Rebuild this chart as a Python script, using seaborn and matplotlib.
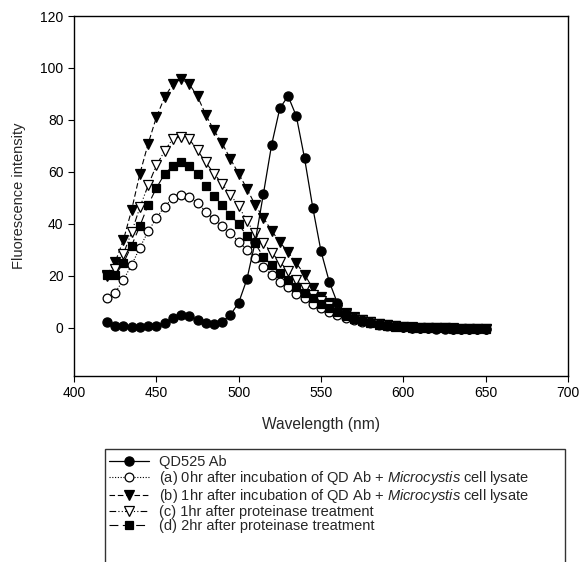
import matplotlib
matplotlib.use("Agg")
import matplotlib.pyplot as plt
import seaborn as sns
from matplotlib.patches import Rectangle

# ---------------- data ----------------
wavelength = [420, 425, 430, 435, 440, 445, 450, 455, 460, 465, 470, 475, 480, 485,
              490, 495, 500, 505, 510, 515, 520, 525, 530, 535, 540, 545, 550, 555,
              560, 565, 570, 575, 580, 585, 590, 595, 600, 605, 610, 615, 620, 625,
              630, 635, 640, 645, 650]

qd525 = [2.4, 0.8, 0.6, 0.5, 0.5, 0.6, 0.9, 2.0, 3.7, 5.0, 4.6, 3.1, 1.8, 1.4,
         2.4, 5.0, 9.7, 18.7, 33.0, 51.5, 70.4, 84.5, 89.2, 81.5, 65.3, 46.3, 29.5, 17.8,
         9.5, 5.6, 3.9, 2.9, 2.1, 1.5, 1.0, 0.6, 0.3, 0.1, -0.1, -0.2, -0.3, -0.3,
         -0.4, -0.4, -0.5, -0.5, -0.6]

series_a = [11.7, 13.6, 18.5, 24.2, 30.9, 37.1, 42.2, 46.7, 50.0, 51.2, 50.5, 48.2, 44.7, 41.8,
            39.2, 36.4, 33.2, 30.0, 26.8, 23.3, 20.4, 17.8, 15.6, 13.0, 11.4, 9.1, 7.5, 6.0,
            4.8, 3.8, 3.0, 2.3, 1.8, 1.3, 0.9, 0.6, 0.4, 0.2, 0.1, 0.0, -0.1, -0.2,
            -0.3, -0.3, -0.4, -0.4, -0.5]

series_b = [20.5, 25.3, 33.8, 45.4, 59.3, 70.8, 81.0, 88.7, 93.8, 95.8, 93.8, 89.1, 82.0, 76.0,
            71.0, 65.0, 59.3, 53.6, 47.3, 42.4, 37.4, 33.0, 29.2, 24.9, 20.5, 15.3, 12.0, 9.5,
            7.5, 5.6, 4.2, 3.1, 2.3, 1.6, 1.1, 0.7, 0.4, 0.2, 0.1, 0.0, -0.1, -0.2,
            -0.2, -0.3, -0.3, -0.4, -0.4]

series_c = [20.0, 22.5, 28.5, 36.8, 46.4, 54.8, 62.5, 68.0, 72.8, 73.5, 72.6, 68.3, 63.7, 59.4,
            55.4, 51.2, 46.9, 41.0, 36.4, 32.6, 29.0, 25.3, 22.0, 18.5, 15.5, 12.8, 10.5, 8.5,
            6.8, 5.2, 4.0, 3.0, 2.2, 1.5, 1.0, 0.6, 0.3, 0.1, 0.0, -0.1, -0.2, -0.2,
            -0.3, -0.3, -0.4, -0.4, -0.5]

series_d = [20.5, 20.3, 24.9, 31.7, 39.2, 47.3, 53.8, 59.2, 62.3, 63.7, 62.3, 59.2, 54.5, 50.9,
            47.2, 43.6, 39.8, 35.5, 32.5, 27.4, 24.2, 21.0, 18.5, 15.7, 13.3, 11.4, 9.3, 7.6,
            6.0, 4.6, 3.5, 2.6, 1.9, 1.3, 0.9, 0.5, 0.3, 0.1, 0.0, -0.1, -0.2, -0.2,
            -0.3, -0.3, -0.4, -0.4, -0.5]

labels = [
    "QD525 Ab",
    r"(a) 0hr after incubation of QD Ab + $\mathit{Microcystis}$ cell lysate",
    r"(b) 1hr after incubation of QD Ab + $\mathit{Microcystis}$ cell lysate",
    "(c) 1hr after proteinase treatment",
    "(d) 2hr after proteinase treatment",
]

x_ticks = [400, 450, 500, 550, 600, 650, 700]
y_ticks = [0, 20, 40, 60, 80, 100, 120]

# ---------------- style ----------------
sns.set_style("ticks")
plt.rcParams["font.family"] = ["Liberation Sans", "DejaVu Sans"]
plt.rcParams["mathtext.fontset"] = "custom"
plt.rcParams["mathtext.rm"] = "Liberation Sans"
plt.rcParams["mathtext.it"] = "Liberation Sans:italic"

W, H = 588, 562
fig = plt.figure(figsize=(W / 100, H / 100), dpi=100)
fig.patch.set_facecolor("white")
ax = fig.add_axes([74 / W, 1 - 376 / H, 494 / W, 360 / H])
ax.set_facecolor("white")

styles = [
    dict(data=series_a, marker="o", mfc="white", ms=6.3, ls=(0, (1, 1.5)), z=3),
    dict(data=series_b, marker="v", mfc="black", ms=7.2, ls=(0, (5, 2.5)), z=4),
    dict(data=series_c, marker="v", mfc="white", ms=7.2, ls=(0, (6, 2, 1, 2, 1, 2)), z=5),
    dict(data=series_d, marker="s", mfc="black", ms=6.0, ls=(0, (8, 4)), z=6),
]

handles = {}
for lab, st in zip(labels[1:], styles):
    sns.lineplot(x=wavelength, y=st["data"], ax=ax, color="black",
                 marker=st["marker"], markersize=st["ms"],
                 markerfacecolor=st["mfc"], markeredgecolor="black",
                 markeredgewidth=0.9, linewidth=0.8, linestyle=st["ls"],
                 estimator=None, sort=False, legend=False, zorder=st["z"])
    handles[lab] = ax.lines[-1]

sns.lineplot(x=wavelength, y=qd525, ax=ax, color="black", marker="o",
             markersize=6.6, markerfacecolor="black", markeredgecolor="black",
             markeredgewidth=0.9, linewidth=0.9, linestyle="-",
             estimator=None, sort=False, legend=False, zorder=7)
handles[labels[0]] = ax.lines[-1]

ax.set_xlim(400, 700)
ax.set_ylim(-18.5, 120)
ax.set_xticks(x_ticks)
ax.set_yticks(y_ticks)
ax.tick_params(direction="out", length=4, width=0.8, labelsize=10, colors="black")
for s in ax.spines.values():
    s.set_color("black")
    s.set_linewidth(1.0)
ax.set_xlabel("Wavelength (nm)", fontsize=11.2, labelpad=12)
ax.set_ylabel("Fluorescence intensity", fontsize=10.5, labelpad=10)

# ---------------- legend ----------------
leg = fig.legend([handles[l] for l in labels], labels,
                 loc="upper left", bbox_to_anchor=(109 / W, 1 - 455 / H),
                 bbox_transform=fig.transFigure, frameon=False,
                 fontsize=10.5, handlelength=2.75, handletextpad=0.68,
                 labelspacing=0.0, borderpad=0, borderaxespad=0)

box = Rectangle((105 / W, -0.05), (565 - 105) / W, (1 - 449 / H) + 0.05,
                transform=fig.transFigure, fill=False, edgecolor="#333333",
                linewidth=1.0, clip_on=False)
fig.add_artist(box)

fig.savefig("out.png", dpi=100, facecolor="white")
